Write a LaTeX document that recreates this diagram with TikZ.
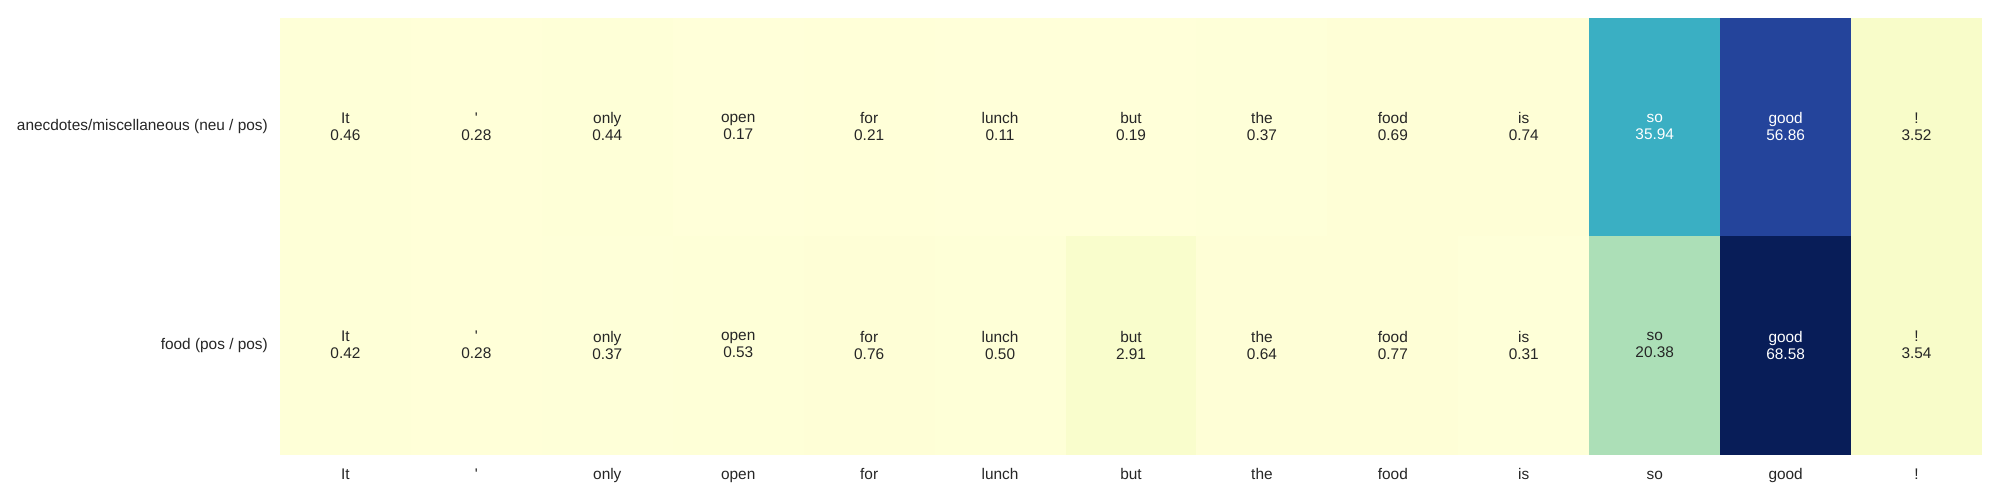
\documentclass[tikz,border=0pt]{standalone}
\usepackage{fontspec}
\setmainfont{Liberation Sans}
\definecolor{yl0}{HTML}{FFFFD9}
\definecolor{yl1}{HTML}{EDF8B1}
\definecolor{yl2}{HTML}{C7E9B4}
\definecolor{yl3}{HTML}{7FCDBB}
\definecolor{yl4}{HTML}{41B6C4}
\definecolor{yl5}{HTML}{1D91C0}
\definecolor{yl6}{HTML}{225EA8}
\definecolor{yl7}{HTML}{253494}
\definecolor{yl8}{HTML}{081D58}
\definecolor{txtdark}{HTML}{262626}
\tikzset{
  celltext/.style={align=center, inner sep=0pt, font=\fontsize{15.4}{17}\selectfont},
  ticklabel/.style={inner sep=0pt, font=\fontsize{15.4}{17}\selectfont, text=txtdark},
}
\newcommand\hmcell[6]{% #1 name, #2 col, #3 row, #4 word, #5 value, #6 text colour
  \pgfmathsetmacro\hmT{min(7.99999,max(0,(#5-0.11)/68.47*8))}%
  \pgfmathtruncatemacro\hmI{floor(\hmT)}%
  \pgfmathtruncatemacro\hmJ{\hmI+1}%
  \pgfmathsetmacro\hmP{(\hmT-\hmI)*100}%
  \colorlet{cellc}{yl\hmJ!\hmP!yl\hmI}%
  \fill[cellc] ({280+#2*130.923},{-17.7-#3*218.3}) rectangle ({280+(#2+1)*130.923+0.4},{-17.7-(#3+1)*218.3-0.4});
  \node[celltext, text=#6] (#1) at ({280+(#2+0.5)*130.923},{-17.7-(#3+0.5)*218.3}) {#4\\#5};
}
\begin{document}
\begin{tikzpicture}[x=1pt,y=1pt]
\useasboundingbox (0,0) rectangle (2000,-500);
\fill[white] (0,0) rectangle (2000,-500);
% row 0
\hmcell{a0}{0}{0}{It}{0.46}{txtdark}
\hmcell{a1}{1}{0}{\textquotesingle}{0.28}{txtdark}
\hmcell{a2}{2}{0}{only}{0.44}{txtdark}
\hmcell{a3}{3}{0}{open}{0.17}{txtdark}
\hmcell{a4}{4}{0}{for}{0.21}{txtdark}
\hmcell{a5}{5}{0}{lunch}{0.11}{txtdark}
\hmcell{a6}{6}{0}{but}{0.19}{txtdark}
\hmcell{a7}{7}{0}{the}{0.37}{txtdark}
\hmcell{a8}{8}{0}{food}{0.69}{txtdark}
\hmcell{a9}{9}{0}{is}{0.74}{txtdark}
\hmcell{a10}{10}{0}{so}{35.94}{white}
\hmcell{a11}{11}{0}{good}{56.86}{white}
\hmcell{a12}{12}{0}{!}{3.52}{txtdark}
% row 1
\hmcell{b0}{0}{1}{It}{0.42}{txtdark}
\hmcell{b1}{1}{1}{\textquotesingle}{0.28}{txtdark}
\hmcell{b2}{2}{1}{only}{0.37}{txtdark}
\hmcell{b3}{3}{1}{open}{0.53}{txtdark}
\hmcell{b4}{4}{1}{for}{0.76}{txtdark}
\hmcell{b5}{5}{1}{lunch}{0.50}{txtdark}
\hmcell{b6}{6}{1}{but}{2.91}{txtdark}
\hmcell{b7}{7}{1}{the}{0.64}{txtdark}
\hmcell{b8}{8}{1}{food}{0.77}{txtdark}
\hmcell{b9}{9}{1}{is}{0.31}{txtdark}
\hmcell{b10}{10}{1}{so}{20.38}{txtdark}
\hmcell{b11}{11}{1}{good}{68.58}{white}
\hmcell{b12}{12}{1}{!}{3.54}{txtdark}
% y tick labels
\node[ticklabel, anchor=east] (ya) at (268,-127) {anecdotes/miscellaneous (neu / pos)};
\node[ticklabel, anchor=east] (yb) at (268,-345.5) {food (pos / pos)};
% x tick labels
\foreach \w [count=\i from 0] in {It,\textquotesingle,only,open,for,lunch,but,the,food,is,so,good,!}{
  \node[ticklabel, anchor=base] (x\i) at ({280+(\i+0.5)*130.923},-479) {\w};
}
\end{tikzpicture}
\end{document}
